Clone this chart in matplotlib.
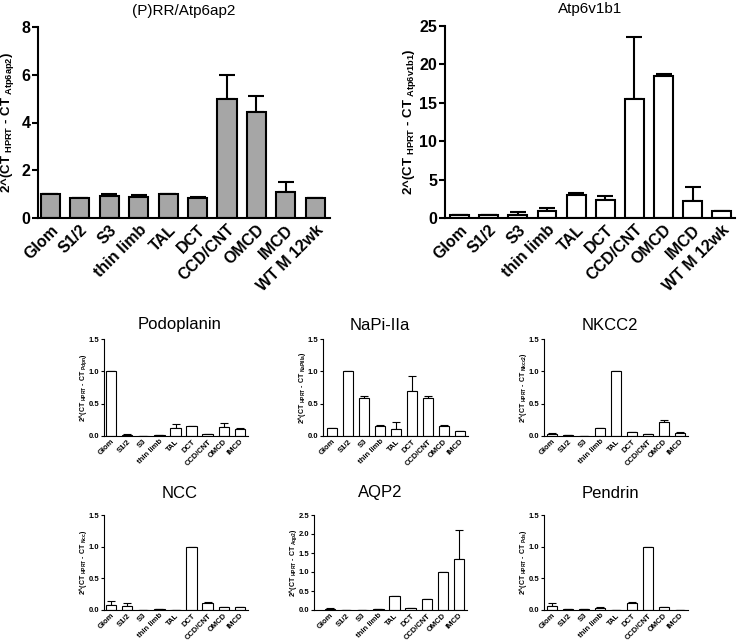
import numpy as np
import matplotlib
matplotlib.use("Agg")
import matplotlib.pyplot as plt

plt.rcParams["font.family"] = ["Liberation Sans", "DejaVu Sans"]
plt.rcParams["mathtext.fontset"] = "custom"
plt.rcParams["mathtext.rm"] = "Liberation Sans"
plt.rcParams["mathtext.bf"] = "Liberation Sans:bold"

# categories
segments_big = ["Glom", "S1/2", "S3", "thin limb", "TAL", "DCT", "CCD/CNT", "OMCD", "IMCD", "WT M 12wk"]
segments_small = segments_big[:9]

# top panels
prr_mean = [1.0, 0.82, 0.93, 0.86, 1.0, 0.85, 5.0, 4.42, 1.08, 0.83]
prr_err = [0.0, 0.03, 0.08, 0.12, 0.0, 0.05, 0.97, 0.70, 0.41, 0.0]
b1_mean = [0.42, 0.40, 0.40, 0.95, 3.03, 2.3, 15.5, 18.5, 2.17, 0.9]
b1_err = [0.0, 0.0, 0.38, 0.35, 0.27, 0.5, 8.1, 0.26, 1.83, 0.0]

# small panels
pdpn_mean = [1.0, 0.015, 0.005, 0.015, 0.13, 0.15, 0.03, 0.14, 0.11]
pdpn_err = [0.0, 0.01, 0.0, 0.005, 0.05, 0.0, 0.005, 0.06, 0.01]
napi_mean = [0.13, 1.0, 0.58, 0.15, 0.11, 0.70, 0.595, 0.155, 0.077]
napi_err = [0.0, 0.0, 0.04, 0.02, 0.11, 0.23, 0.025, 0.015, 0.0]
nkcc2_mean = [0.035, 0.015, 0.005, 0.13, 1.0, 0.055, 0.025, 0.22, 0.05]
nkcc2_err = [0.01, 0.005, 0.0, 0.0, 0.0, 0.005, 0.005, 0.02, 0.01]
ncc_mean = [0.08, 0.06, 0.005, 0.015, 0.005, 1.0, 0.115, 0.04, 0.04]
ncc_err = [0.065, 0.045, 0.0, 0.005, 0.0, 0.0, 0.015, 0.0, 0.01]
aqp2_mean = [0.025, 0.01, 0.01, 0.025, 0.38, 0.05, 0.28, 1.0, 1.34]
aqp2_err = [0.015, 0.0, 0.0, 0.01, 0.0, 0.01, 0.01, 0.0, 0.76]
pds_mean = [0.07, 0.015, 0.01, 0.03, 0.005, 0.115, 1.0, 0.05, 0.005]
pds_err = [0.04, 0.005, 0.0, 0.01, 0.0, 0.005, 0.0, 0.005, 0.0]

W, H = 740, 640
fig = plt.figure(figsize=(W / 100, H / 100), dpi=100)


def px_axes(left, right, top, bottom):
    return fig.add_axes([left / W, 1 - bottom / H, (right - left) / W, (bottom - top) / H])


def draw_panel(ax, labels, mean, err, color, ylim, yticks, xlim, sub, label_px,
               big=True):
    x = np.arange(len(labels))
    lw = 1.5 if big else 0.8
    ax.bar(x, mean, width=0.65, color=color, edgecolor="black", linewidth=lw, zorder=2)
    ax.errorbar(x, mean, yerr=[np.zeros(len(err)), err], fmt="none", ecolor="black",
                elinewidth=lw, capsize=6 if big else 3, capthick=lw, zorder=1)
    ax.set_xlim(*xlim)
    ax.set_ylim(*ylim)
    ax.set_yticks(yticks)
    ax.spines["top"].set_visible(False)
    ax.spines["right"].set_visible(False)
    ax.spines["left"].set_linewidth(lw)
    ax.spines["bottom"].set_linewidth(lw)
    ax.set_xticks(x)
    fs = 11.5 if big else 5.5
    ax.set_xticklabels(labels, rotation=45, ha="right", rotation_mode="anchor",
                       fontweight="bold", fontsize=fs)
    ax.tick_params(axis="x", length=0, pad=3 if big else 1.5)
    ax.tick_params(axis="y", width=lw, length=4 if big else 2.5,
                   labelsize=fs, pad=1.5 if big else 1)
    if big:
        ax.set_yticklabels([str(v) for v in yticks], fontweight="bold")
    else:
        ax.set_yticklabels([f"{v:.1f}" for v in yticks], fontweight="bold")
    ylab = r"2^(CT$_{\mathbf{\ HPRT}}$ - CT$_{\mathbf{\ " + sub + r"}}$)"
    ax.set_ylabel(ylab, fontweight="bold", fontsize=9.5 if big else 5)
    # the label's right edge sits a fixed number of pixels left of the spine
    width_px = ax.get_position().width * W
    ax.yaxis.set_label_coords(-label_px / width_px, 0.5)


ax1 = px_axes(38, 330, 27, 218)
draw_panel(ax1, segments_big, prr_mean, prr_err, "#a6a6a6", (0, 8), [0, 2, 4, 6, 8],
           (-0.42, 9.5), "Atp6ap2", 22)
ax1.set_title("(P)RR/Atp6ap2", fontsize=11, pad=9)

ax2 = px_axes(445, 735, 26, 218)
draw_panel(ax2, segments_big, b1_mean, b1_err, "white", (0, 25), [0, 5, 10, 15, 20, 25],
           (-0.5, 9.45), "Atp6v1b1", 27)
ax2.set_title("Atp6v1b1", fontsize=11, pad=9)

small_row1 = [
    (104, 248, pdpn_mean, pdpn_err, (-0.44, 8.5), "Podoplanin", "Pdpn", (0, 1.5), [0, 0.5, 1.0, 1.5]),
    (323, 468, napi_mean, napi_err, (-0.56, 8.5), "NaPi-IIa", "NaPi IIa", (0, 1.5), [0, 0.5, 1.0, 1.5]),
    (544, 688, nkcc2_mean, nkcc2_err, (-0.5, 8.5), "NKCC2", "Nkcc2", (0, 1.5), [0, 0.5, 1.0, 1.5]),
]
small_row2 = [
    (104, 248, ncc_mean, ncc_err, (-0.44, 8.5), "NCC", "Ncc", (0, 1.5), [0, 0.5, 1.0, 1.5]),
    (314, 467, aqp2_mean, aqp2_err, (-1.0, 8.5), "AQP2", "Aqp2", (0, 2.5), [0, 0.5, 1.0, 1.5, 2.0, 2.5]),
    (544, 688, pds_mean, pds_err, (-0.5, 8.5), "Pendrin", "Pds", (0, 1.5), [0, 0.5, 1.0, 1.5]),
]

title_x = [180, 380, 610]
for row, (top, bottom, ty) in zip([small_row1, small_row2], [(339, 436, 325), (515, 610, 493)]):
    for (l, r, m, e, xl, title, sub, yl, yt), tx in zip(row, title_x):
        ax = px_axes(l, r, top, bottom)
        draw_panel(ax, segments_small, m, e, "white", yl, yt, xl, sub, 15, big=False)
        fig.text(tx / W, 1 - ty / H, title, ha="center", va="center", fontsize=12)

fig.savefig("out.png", dpi=100)
